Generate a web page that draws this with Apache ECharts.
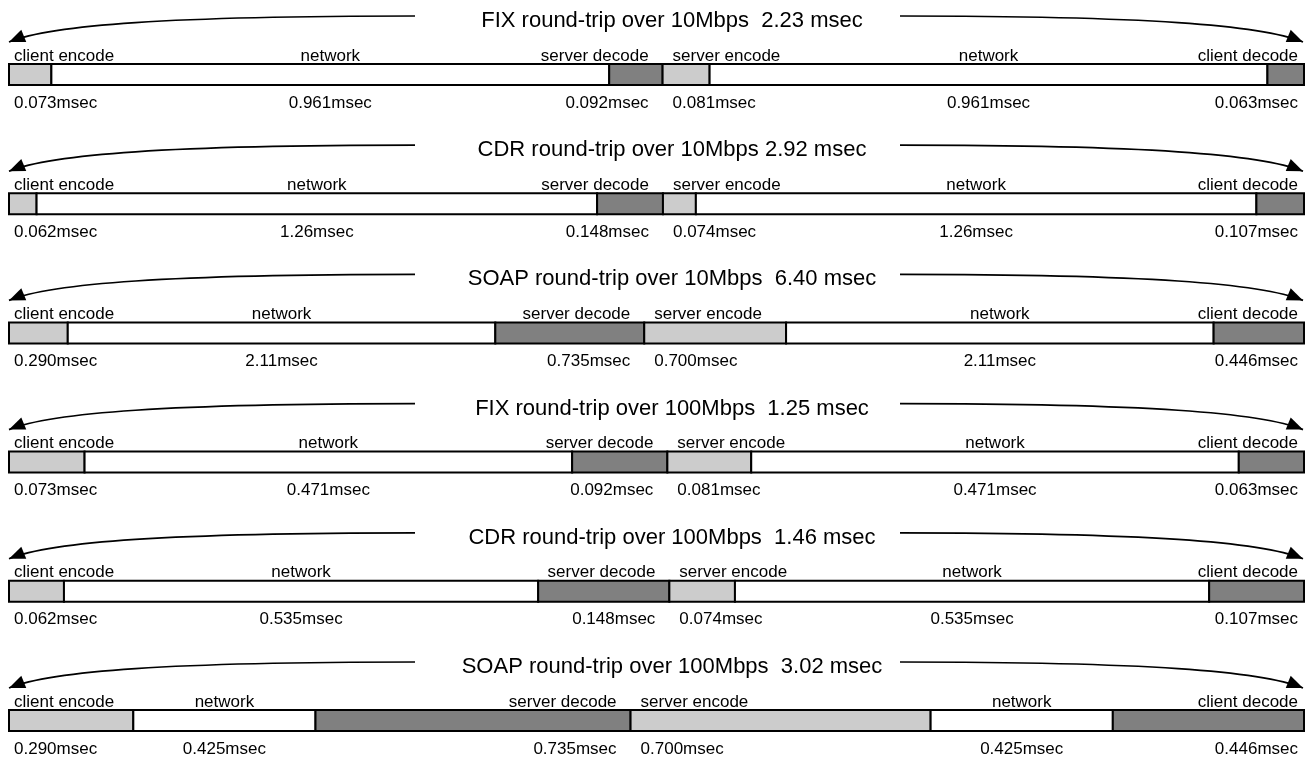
<!DOCTYPE html>
<html>
<head>
<meta charset="utf-8">
<script src="https://cdn.jsdelivr.net/npm/echarts@6/dist/echarts.min.js"></script>
<style>
  html, body { margin: 0; padding: 0; background: #fff; }
  #chart { width: 1307px; height: 760px; }
</style>
</head>
<body>
<div id="chart"></div>
<script>
// ---- data ----
const segmentNames = ['client encode', 'network', 'server decode', 'server encode', 'network', 'client decode'];
const rowTitles = [
  'FIX round-trip over 10Mbps  2.23 msec',
  'CDR round-trip over 10Mbps 2.92 msec',
  'SOAP round-trip over 10Mbps  6.40 msec',
  'FIX round-trip over 100Mbps  1.25 msec',
  'CDR round-trip over 100Mbps  1.46 msec',
  'SOAP round-trip over 100Mbps  3.02 msec'
];
const fix10   = [0.073, 0.961, 0.092, 0.081, 0.961, 0.063];
const cdr10   = [0.062, 1.26,  0.148, 0.074, 1.26,  0.107];
const soap10  = [0.290, 2.11,  0.735, 0.700, 2.11,  0.446];
const fix100  = [0.073, 0.471, 0.092, 0.081, 0.471, 0.063];
const cdr100  = [0.062, 0.535, 0.148, 0.074, 0.535, 0.107];
const soap100 = [0.290, 0.425, 0.735, 0.700, 0.425, 0.446];
const rows = [fix10, cdr10, soap10, fix100, cdr100, soap100];

// ---- style / layout ----
const segColors = ['#cccccc', '#ffffff', '#808080', '#cccccc', '#ffffff', '#808080'];
const FONT = '"Liberation Sans", Arial, Helvetica, sans-serif';
const LABEL_SIZE = 17;
const TITLE_SIZE = 22;
const GRID_LEFT = 9, GRID_RIGHT = 3, BAR_H = 21;
const FIRST_TOP = 64, ROW_STEP = 129.2;
function rowTop(i) { return FIRST_TOP + i * ROW_STEP; }
function fmt(v) { return (v < 1 ? v.toFixed(3) : v.toPrecision(3)) + 'msec'; }

function renderSeg(params, api) {
  const s = api.value(0), e = api.value(1), k = api.value(2), v = api.value(3);
  const p0 = api.coord([s, 0]);
  const p1 = api.coord([e, 0]);
  const h = api.size([0, 1])[1];
  const top = p0[1] - h / 2, bottom = p0[1] + h / 2;
  let tx, align;
  if (k === 0) { tx = p0[0] + 5; align = 'left'; }
  else if (k === 1 || k === 4) { tx = (p0[0] + p1[0]) / 2; align = 'center'; }
  else if (k === 2) { tx = p1[0] - 14; align = 'right'; }
  else if (k === 3) { tx = p0[0] + 10; align = 'left'; }
  else { tx = p1[0] - 6; align = 'right'; }
  const txtStyle = { align: align, verticalAlign: 'middle', fontSize: LABEL_SIZE, fontFamily: FONT, fill: '#000' };
  return {
    type: 'group',
    children: [
      { type: 'rect', shape: { x: p0[0], y: top, width: p1[0] - p0[0], height: h },
        style: { fill: segColors[k], stroke: '#000', lineWidth: 2 } },
      { type: 'text', style: Object.assign({ x: tx, y: top - 8, text: segmentNames[k] }, txtStyle) },
      { type: 'text', style: Object.assign({ x: tx, y: bottom + 18, text: fmt(v) }, txtStyle) }
    ]
  };
}

const grids = [], xAxes = [], yAxes = [], series = [], graphics = [];
rows.forEach(function (vals, i) {
  const total = vals.reduce(function (a, b) { return a + b; }, 0);
  grids.push({ left: GRID_LEFT, right: GRID_RIGHT, top: rowTop(i), height: BAR_H });
  xAxes.push({ type: 'value', gridIndex: i, min: 0, max: total, show: false });
  yAxes.push({ type: 'category', gridIndex: i, data: ['r'], show: false });
  let acc = 0;
  const data = vals.map(function (v, k) {
    const item = [acc, acc + v, k, v];
    acc += v;
    return item;
  });
  series.push({ type: 'custom', xAxisIndex: i, yAxisIndex: i, renderItem: renderSeg, data: data, silent: true, animation: false });

  // title and arrows (decoration)
  const T = rowTop(i);
  graphics.push({ type: 'text', x: 672, y: T - 43,
    style: { text: rowTitles[i], align: 'center', verticalAlign: 'middle', fontSize: TITLE_SIZE, fontFamily: FONT, fill: '#000' } });
  const y0 = T - 48, yTip = T - 22;
  const curves = [
    { p0: [415, y0], c1: [170, y0], c2: [50, y0 + 9], p3: [9, yTip] },
    { p0: [900, y0], c1: [1145, y0], c2: [1262, y0 + 9], p3: [1303, yTip] }
  ];
  curves.forEach(function (c) {
    graphics.push({ type: 'bezierCurve', silent: true,
      shape: { x1: c.p0[0], y1: c.p0[1], cpx1: c.c1[0], cpy1: c.c1[1], cpx2: c.c2[0], cpy2: c.c2[1], x2: c.p3[0], y2: c.p3[1] },
      style: { stroke: '#000', lineWidth: 1.7, fill: null } });
    const dx = c.p3[0] - c.c2[0], dy = c.p3[1] - c.c2[1];
    const len = Math.sqrt(dx * dx + dy * dy);
    const ux = dx / len, uy = dy / len;
    const L = 16, hw = 6.5;
    const bx = c.p3[0] - ux * L, by = c.p3[1] - uy * L;
    graphics.push({ type: 'polygon', silent: true,
      shape: { points: [[c.p3[0], c.p3[1]], [bx - uy * hw, by + ux * hw], [bx + uy * hw, by - ux * hw]] },
      style: { fill: '#000' } });
  });
});

const chart = echarts.init(document.getElementById('chart'), null, { renderer: 'canvas' });
chart.setOption({
  animation: false,
  backgroundColor: '#fff',
  grid: grids,
  xAxis: xAxes,
  yAxis: yAxes,
  series: series,
  graphic: graphics
});
</script>
</body>
</html>
